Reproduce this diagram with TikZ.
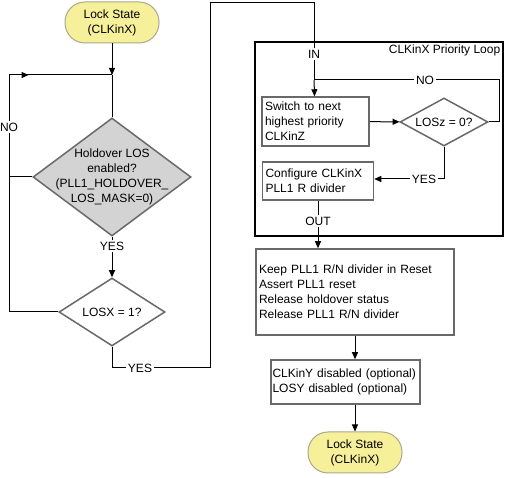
\documentclass[tikz,border=0pt]{standalone}
\usepackage{fontspec}
\setmainfont{Liberation Sans}
\usetikzlibrary{shapes.geometric, arrows.meta, decorations.markings}

\definecolor{termyellow}{RGB}{246,240,155}
\definecolor{termedge}{RGB}{170,168,140}
\definecolor{decgray}{RGB}{211,211,211}
\definecolor{boxedge}{RGB}{105,105,105}

\begin{document}
\begin{tikzpicture}[x=1pt, y=-1pt, >={Triangle[length=7pt,width=6pt]},
  every node/.style={font=\fontsize{12}{15}\selectfont},
  every path/.style={line width=1pt},
  term/.style={draw=termedge, fill=termyellow, rounded corners=20pt,
    minimum width=94pt, minimum height=41pt, align=center},
  dec/.style={diamond, draw=boxedge, line width=1.5pt, inner sep=0pt},
  box/.style={draw=boxedge, line width=1.5pt, fill=white, inner sep=3pt, align=left},
  frame/.style={draw, line width=1.5pt},
  tag/.style={inner sep=1.5pt},
  midarrow/.style={postaction=decorate, decoration={markings,
    mark=at position #1 with {\arrow{Triangle[length=7pt,width=6pt]}}}}]
  \useasboundingbox (0,0) rectangle (507,478);

  % left side
  \node[term] (lock1) at (112,22.5) {Lock State\\(CLKinX)};
  \coordinate (j1) at (112,75);
  \node[dec, fill=decgray, minimum width=158pt, minimum height=118pt,
    label={[align=center]center:Holdover LOS\\enabled?\\(PLL1\_HOLDOVER\_\\LOS\_MASK=0)}] (hold) at (112,177) {};
  \node[tag] (yes1) at (112,246) {YES};
  \node[dec, fill=white, minimum width=106pt, minimum height=68pt,
    label=center:{LOSX = 1?}] (losx) at (112,312) {};
  \node[tag, fill=white] (no1) at (9,127) {NO};
  \coordinate (c1) at (9,75);
  \node[tag] (yes2) at (140,368) {YES};
  \coordinate (c2) at (210,3);

  \draw [->] (lock1) -- (j1);
  \draw (j1) -- (hold.north);
  \draw (hold.south) -- (yes1);
  \draw [->] (yes1) -- (losx.north);
  \draw (hold.west) -- (hold.west -| c1);
  \draw (losx.west) -| (no1.south);
  \draw (no1.north) -- (c1);
  \draw [midarrow=0.19] (c1) -- (j1);

  % priority loop
  \node[frame, minimum width=248pt, minimum height=194pt] (loop) at (379,139) {};
  \node[anchor=north east, inner sep=3pt] (title) at (loop.north east) {CLKinX Priority Loop};
  \node[tag] (in1) at (314,54) {IN};
  \coordinate (j2) at (314,80);
  \node[box, minimum height=49pt, text width=101pt] (sw) at (315.5,121.5)
    {Switch to next\\highest priority\\CLKinZ};
  \node[dec, fill=white, minimum width=88pt, minimum height=48pt,
    label=center:{LOSz = 0?}] (losz) at (444,122) {};
  \node[tag] (no2) at (425,80) {NO};
  \coordinate (c3) at (499,122);
  \node[box, minimum height=38pt, text width=105pt] (cfg) at (318,181)
    {Configure CLKinX\\PLL1 R divider};
  \node[tag] (yes3) at (424,179) {YES};
  \node[tag] (out1) at (318,221) {OUT};

  \draw (losx.south) |- (yes2.west);
  \draw (yes2.east) -| (c2) -| (in1.north);
  \draw (in1) -- (j2);
  \draw [->] (j2) -- (sw);
  \draw (j2) -- (no2);
  \draw (no2.east) -| (c3) -- (losz.east);
  \draw [->] (sw) -- (losz);
  \draw (losz.south) |- (yes3.east);
  \draw [->] (yes3.west) -- (yes3 -| cfg.east);
  \draw (cfg) -- (out1);

  % after the loop
  \node[box, minimum height=86pt, text width=192pt] (keep) at (355,292)
    {Keep PLL1 R/N divider in Reset\\Assert PLL1 reset\\Release holdover status\\Release PLL1 R/N divider};
  \node[box, inner xsep=1.5pt, minimum height=44pt, text width=146pt] (opt) at (345.5,382)
    {CLKinY disabled (optional)\\LOSY disabled (optional)};
  \node[term] (lock2) at (355,452.5) {Lock State\\(CLKinX)};

  \draw [->] (out1) -- (out1 |- keep.north);
  \draw [->] (keep.south) -- (keep.south |- opt.north);
  \draw [->] (opt.south -| lock2) -- (lock2);
\end{tikzpicture}
\end{document}
